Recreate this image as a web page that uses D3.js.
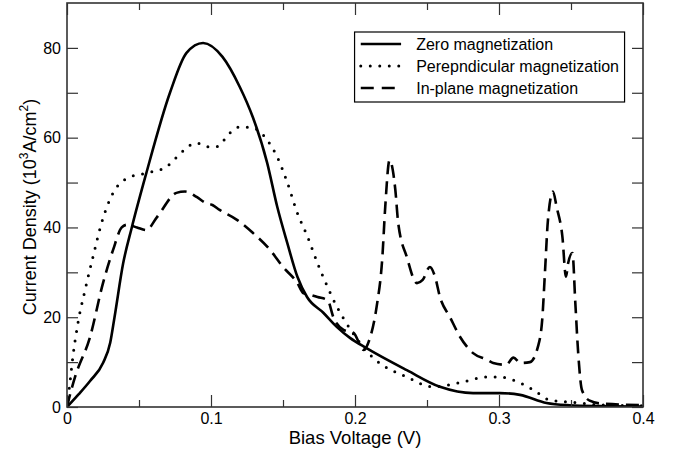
<!DOCTYPE html>
<html>
<head>
<meta charset="utf-8">
<script src="https://cdn.jsdelivr.net/npm/d3@7"></script>
<style>
  body { margin: 0; background: #fff; }
  text { font-family: "Liberation Sans", Arial, Helvetica, sans-serif; fill: #000; }
</style>
</head>
<body>
<div id="chart"></div>
<script>
// values
const zeroV = [0, 0.008, 0.016, 0.025, 0.030, 0.033, 0.039, 0.045, 0.055, 0.0715, 0.083, 0.0945, 0.108, 0.120, 0.129, 0.139, 0.146, 0.153, 0.160, 0.1667, 0.178, 0.1875, 0.1965, 0.208, 0.236, 0.259, 0.282, 0.3007, 0.3146, 0.333, 0.349, 0.37, 0.4];
const zeroJ = [0, 2.8, 5.8, 9.8, 14.3, 20, 32, 40, 52, 70, 78.9, 81.1, 78, 71.3, 64.6, 54.4, 44.6, 36.5, 29, 24.5, 21, 17.8, 15.4, 13.1, 8.2, 4.5, 3.1, 3.1, 2.7, 0.9, 0.4, 0.2, 0.1];

const perpV = [0, 0.002, 0.004, 0.0076, 0.0125, 0.018, 0.024, 0.032, 0.042, 0.055, 0.069, 0.074, 0.090, 0.097, 0.104, 0.113, 0.120, 0.129, 0.139, 0.146, 0.153, 0.160, 0.167, 0.174, 0.181, 0.1875, 0.194, 0.2125, 0.236, 0.254, 0.271, 0.292, 0.30, 0.31, 0.324, 0.335, 0.349, 0.37, 0.4];
const perpJ = [0, 5.3, 11, 18.7, 26, 33.4, 41, 47.7, 51, 52.1, 53.5, 55, 58.8, 58, 58, 61, 62.4, 62.2, 59.5, 55.7, 50, 43.2, 38, 32, 26.7, 22.3, 18.7, 11, 6.7, 4.5, 5.3, 6.7, 6.7, 6, 3.8, 1.6, 1.1, 0.5, 0.3];

const inplV = [0, 0.0015, 0.0056, 0.016, 0.025, 0.032, 0.038, 0.0417, 0.0486, 0.055, 0.0625, 0.076, 0.082, 0.090, 0.096, 0.101, 0.106, 0.118, 0.129, 0.141, 0.150, 0.160, 0.164, 0.169, 0.174, 0.181, 0.185, 0.192, 0.199, 0.206, 0.21, 0.215, 0.219, 0.221, 0.224, 0.228, 0.23, 0.236, 0.243, 0.247, 0.252, 0.2556, 0.259, 0.266, 0.273, 0.282, 0.292, 0.296, 0.305, 0.31, 0.315, 0.3215, 0.327, 0.330, 0.332, 0.334, 0.3375, 0.340, 0.344, 0.3465, 0.348, 0.351, 0.353, 0.355, 0.3576, 0.363, 0.37, 0.4];
const inplJ = [0, 2, 6.7, 15.6, 27.6, 35, 40, 40.6, 40, 39.4, 42.3, 47.7, 48, 46.8, 45.5, 45, 43.9, 41.7, 38.8, 35, 31.2, 27.6, 25.4, 25, 24.5, 23.8, 20, 17.2, 16.5, 12.7, 15, 22.3, 33.4, 44.6, 55, 48.4, 41, 33.4, 27.6, 28.3, 31.2, 29, 24.5, 20, 15.6, 12, 10.5, 9.8, 9.4, 11, 9.8, 10, 13.4, 19.4, 30.5, 41.7, 48, 44.6, 38, 29, 32, 34.3, 23.2, 12, 3.8, 1.4, 0.8, 0.4];

const seriesNames = ["Zero magnetization", "Perepndicular magnetization", "In-plane magnetization"];
const xTicks = [0, 0.1, 0.2, 0.3, 0.4];
const xMinor = [0.05, 0.15, 0.25, 0.35];
const yTicks = [0, 20, 40, 60, 80];
const yMinor = [10, 30, 50, 70];

const W = 677, H = 455;
const margin = {left: 67, right: 34, top: 3, bottom: 48};
const width = W - margin.left - margin.right;
const height = H - margin.top - margin.bottom;

const svg = d3.select("#chart").append("svg")
    .attr("width", W)
    .attr("height", H);

const g = svg.append("g")
    .attr("transform", `translate(${margin.left},${margin.top})`);

const x = d3.scaleLinear().domain([0, 0.4]).range([0, width]);
const y = d3.scaleLinear().domain([0, 90]).range([height, 0]);

// curves
const styles = [
  {dash: null, width: 2.6, cap: "butt"},
  {dash: "0,9.5", width: 3, cap: "round"},
  {dash: "13,7", width: 2.6, cap: "butt"}
];
const data = [
  zeroV.map((v, i) => [v, zeroJ[i]]),
  perpV.map((v, i) => [v, perpJ[i]]),
  inplV.map((v, i) => [v, inplJ[i]])
];

const line = d3.line()
    .x(d => x(d[0]))
    .y(d => y(d[1]))
    .curve(d3.curveMonotoneX);

g.append("defs").append("clipPath").attr("id", "clip")
  .append("rect").attr("width", width).attr("height", height);

data.forEach((d, i) => {
  g.append("path")
    .datum(d)
    .attr("clip-path", "url(#clip)")
    .attr("fill", "none")
    .attr("stroke", "#000")
    .attr("stroke-width", styles[i].width)
    .attr("stroke-linecap", styles[i].cap)
    .attr("stroke-linejoin", "round")
    .attr("stroke-dasharray", styles[i].dash)
    .attr("d", line);
});

// axes with inward ticks on all sides
function tickAxis(axis, scale, major, minor, majorLen, minorLen, transform, labels) {
  const a = g.append("g").attr("transform", transform);
  a.call(axis(scale).tickValues(major).tickSize(-majorLen).tickPadding(labels ? 6 : 0)
      .tickFormat(labels ? (d => d === 0 ? "0" : d3.format("")(d)) : ""));
  a.append("g").call(axis(scale).tickValues(minor).tickSize(-minorLen).tickFormat(""));
  a.selectAll(".domain").remove();
  a.selectAll("line").attr("stroke", "#333").attr("stroke-width", 1.2);
  a.selectAll("text").style("font-size", "16px").style("fill", "#000");
  return a;
}

tickAxis(d3.axisBottom, x, xTicks, xMinor, 12, 7, `translate(0,${height})`, true);
tickAxis(d3.axisTop, x, xTicks, xMinor, 12, 7, "translate(0,0)", false);
tickAxis(d3.axisLeft, y, yTicks, yMinor, 11, 11, "translate(0,0)", true);
tickAxis(d3.axisRight, y, yTicks, yMinor, 11, 11, `translate(${width},0)`, false);

g.append("rect")
  .attr("width", width).attr("height", height)
  .attr("fill", "none").attr("stroke", "#333").attr("stroke-width", 1.6);

// axis titles
svg.append("text")
  .attr("x", margin.left + width / 2 - 0)
  .attr("y", 444)
  .attr("text-anchor", "middle")
  .style("font-size", "18.5px")
  .text("Bias Voltage (V)");

const yt = svg.append("text")
  .attr("transform", "translate(36,207) rotate(-90)")
  .attr("text-anchor", "middle")
  .style("font-size", "18px");
yt.append("tspan").text("Current Density (10");
yt.append("tspan").attr("dy", -8).style("font-size", "12px").text("3");
yt.append("tspan").attr("dy", 8).text("A/cm");
yt.append("tspan").attr("dy", -8).style("font-size", "12px").text("2");
yt.append("tspan").attr("dy", 8).text(")");

// legend
const lg = g.append("g");
lg.append("rect")
  .attr("x", x(0.1997)).attr("y", 29)
  .attr("width", 270).attr("height", 70)
  .attr("fill", "#fff").attr("stroke", "#000").attr("stroke-width", 1.2);

seriesNames.forEach((name, i) => {
  const yy = 41 + i * 22;
  lg.append("line")
    .attr("x1", x(0.204)).attr("x2", x(0.232))
    .attr("y1", yy).attr("y2", yy)
    .attr("stroke", "#000")
    .attr("stroke-width", styles[i].width)
    .attr("stroke-linecap", styles[i].cap)
    .attr("stroke-dasharray", i === 1 ? "0,9.5" : (i === 2 ? "13,8" : null));
  lg.append("text")
    .attr("x", x(0.2425)).attr("y", yy + 5.5)
    .style("font-size", "16px")
    .text(name);
});
</script>
</body>
</html>
